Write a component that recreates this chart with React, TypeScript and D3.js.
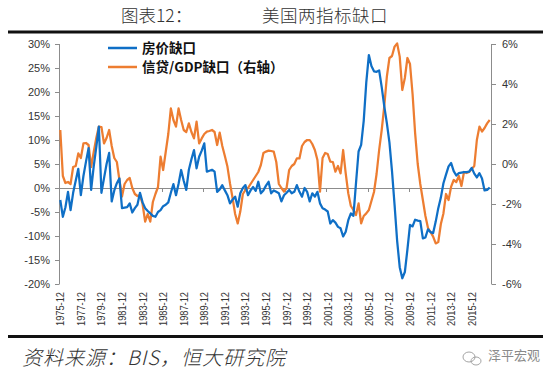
import React from "react";
import * as d3 from "d3";

const W = 550;
const H = 379;

const tickLabels = [
  "1975-12", "1977-12", "1979-12", "1981-12", "1983-12", "1985-12", "1987-12",
  "1989-12", "1991-12", "1993-12", "1995-12", "1997-12", "1999-12", "2001-12",
  "2003-12", "2005-12", "2007-12", "2009-12", "2011-12", "2013-12", "2015-12",
];

// 房价缺口 (left axis, %), quarterly from 1975-12
const housingGap = [
  -2.5, -6.0, -4.0, -0.8, -4.6, -1.0, 1.5, 4.0, -1.5, 2.5,
  5.5, 8.3, -0.4, 4.5, 8.5, 12.8, -1.0, 2.0, 5.0, 7.3,
  -2.8, -0.5, 1.0, 2.0, -4.2, -4.1, -4.0, -3.2, -5.1, -4.2,
  -3.5, -1.0, -3.0, -4.2, -4.8, -5.3, -5.8, -6.0, -5.0, -4.6,
  -3.8, -3.5, -3.0, -1.0, 0.8, -1.5, 0.9, 3.75, 1.5, -0.4,
  3.8, 6.0, 7.9, 4.1, 6.5, 7.8, 9.3, 3.4, 3.6, 3.8,
  3.4, -0.8, -0.3, 0.6, -0.5, -1.5, -3.2, -2.4, -1.8, -3.9,
  -1.1, 0.0, 0.6, -1.5, -0.5, 0.2, -0.6, 1.3, -1.1, -0.5,
  0.5, 1.3, -1.1, -0.5, -0.8, -1.1, -2.8, -1.5, -1.0, -0.4,
  -1.1, -0.8, 0.6, -0.8, -1.8, 0.0, -0.8, -2.8, -1.1, -1.8,
  -0.8, -3.2, -4.2, -4.5, -4.9, -7.4, -6.7, -7.2, -8.1, -8.4,
  -10.1, -9.1, -6.7, -5.3, -5.8, 1.0, 7.6, 9.0, 14.0, 22.0,
  27.7, 25.4, 24.3, 24.2, 24.5, 21.0, 17.0, 13.5, 9.5, 3.5,
  -3.5, -11.0, -16.5, -18.8, -17.5, -12.8, -7.7, -8.0, -6.6, -6.8,
  -6.9, -10.5, -10.3, -8.6, -9.2, -9.4, -7.0, -4.2, -2.0, 1.0,
  2.8, 4.5, 5.2, 3.5, 2.6, 3.1, 3.2, 3.3, 3.3, 3.4,
  4.2, 3.0, 2.2, 3.1, 2.0, -0.5, -0.4, 0.1,
];

// 信贷/GDP缺口 (right axis, %)
const creditGap = [
  1.7, -0.6, -0.95, -0.9, -1.0, -0.15, -0.1, 0.53, 0.3, 1.03,
  1.05, 0.95, -0.15, 0.6, 1.3, 1.87, 1.85, 1.03, 1.3, 1.7,
  0.9, 0.3, 0.1, -0.8, -1.63, -1.0, -0.8, -0.7, -1.2, -1.5,
  -1.6, -1.55, -2.0, -2.88, -2.5, -2.88, -1.9, -1.5, -1.15, 0.37,
  -0.3, 0.6, 1.5, 2.78, 2.2, 1.87, 2.78, 2.2, 1.7, 1.6,
  2.03, 1.6, 1.28, 2.12, 1.03, 1.28, 1.5, 1.62, 1.65, 1.7,
  1.6, 0.95, 1.57, 0.9, 0.4, -0.13, -0.97, -1.7, -2.5, -2.97,
  -2.38, -1.5, -1.3, -1.2, -1.0, -0.8, -0.6, -0.4, -0.05, 0.55,
  0.62, 0.67, 0.65, 0.62, 0.1, -1.0, -1.2, -1.38, -1.2, -0.3,
  -0.1, 0.0, 0.28, 0.28, 0.9, 1.1, 1.2, 1.2, 1.0, 0.7,
  0.2, -1.38, 0.3, 0.55, 0.5, 0.12, 0.1, -0.38, -0.1, -0.47,
  0.7, -0.47, -1.47, -2.1, -2.3, -2.55, -1.97, -2.97, -2.6, -2.47,
  -2.3, -1.85, -1.4, -0.5, 0.7, 1.7, 2.9, 4.37, 5.3, 5.4,
  5.87, 6.03, 5.37, 3.7, 4.3, 5.3, 5.0, 3.5, 1.53, 0.0,
  -1.0, -1.8, -2.6, -3.2, -3.4, -3.63, -3.97, -3.9, -3.0, -2.47,
  -1.5, -1.8, -1.13, -0.8, -0.9, -0.6, -1.1, -0.4, -0.45, -0.4,
  -0.25, -0.1, 1.2, 1.87, 1.62, 1.8, 2.03, 2.2,
];

const leftTicks = [30, 25, 20, 15, 10, 5, 0, -5, -10, -15, -20];
const rightTicks = [6, 4, 2, 0, -2, -4, -6];

const legendItems = [
  { label: "房价缺口", color: "#0F6FC6" },
  { label: "信贷/GDP缺口（右轴）", color: "#ED7D31" },
];

const AXIS = "#8C8C8C";
const TXT = "#333333";

export default function App() {
  const n = housingGap.length;
  const idx = d3.range(n);
  const x = d3.scaleBand<number>().domain(idx).range([59, 491]).paddingInner(0).paddingOuter(0);
  const bw = x.bandwidth();
  const cx = (i: number) => (x(i) as number) + bw / 2;
  const yL = d3.scaleLinear().domain([-20, 30]).range([284, 44]);
  const yR = d3.scaleLinear().domain([-6, 6]).range([284, 44]);

  const lineL = d3.line<number>().x((_, i) => cx(i)).y((d) => yL(d));
  const lineR = d3.line<number>().x((_, i) => cx(i)).y((d) => yR(d));

  const xTickIdx = d3.range(8, n + 1, 16);
  const labelIdx = tickLabels.map((_, k) => k * 8);
  const fontLatin = "'Liberation Sans', Arial, sans-serif";
  const fontCJK = "'Noto Sans CJK SC', 'Noto Sans', sans-serif";

  return (
    <svg width={W} height={H} style={{ position: "absolute", left: 0, top: 0, background: "#fff" }}>
      <rect x={0} y={0} width={W} height={H} fill="#fff" />
      {/* title */}
      <text x={121} y={22} fontFamily={fontCJK} fontWeight={300} fontSize={17.5} fill={TXT}>图表12：</text>
      <text x={262} y={22} fontFamily={fontCJK} fontWeight={300} fontSize={17.5} fill={TXT} letterSpacing={0.5}>美国两指标缺口</text>
      <rect x={8} y={30.5} width={535} height={3} fill="#111" />

      {/* left axis */}
      <line x1={59.5} y1={yL(30)} x2={59.5} y2={yL(-20)} stroke={AXIS} strokeWidth={1} />
      {leftTicks.map((t) => (
        <g key={"l" + t}>
          <line x1={55} x2={59.5} y1={Math.round(yL(t)) + 0.5} y2={Math.round(yL(t)) + 0.5} stroke={AXIS} />
          <text x={50} y={yL(t) + 4} textAnchor="end" fontFamily={fontLatin} fontSize={11} fill={TXT}>
            {t + "%"}
          </text>
        </g>
      ))}

      {/* right axis */}
      <line x1={491.5} y1={yR(6)} x2={491.5} y2={yR(-6)} stroke={AXIS} strokeWidth={1} />
      {rightTicks.map((t) => (
        <g key={"r" + t}>
          <line x1={491.5} x2={496} y1={Math.round(yR(t)) + 0.5} y2={Math.round(yR(t)) + 0.5} stroke={AXIS} />
          <text x={502} y={yR(t) + 4} textAnchor="start" fontFamily={fontLatin} fontSize={11} fill={TXT}>
            {t + "%"}
          </text>
        </g>
      ))}

      {/* zero line (category axis) */}
      <line x1={59.5} x2={491.5} y1={Math.round(yL(0)) + 0.5} y2={Math.round(yL(0)) + 0.5} stroke={AXIS} />
      {xTickIdx.map((k) => {
        const xx = Math.round(59 + k * bw) + 0.5;
        return <line key={"xt" + k} x1={xx} x2={xx} y1={yL(0)} y2={yL(0) + 4} stroke={AXIS} />;
      })}

      {/* x labels */}
      {labelIdx.map((k, j) => (
        <text
          key={"xl" + k}
          transform={`translate(${cx(k) + 4},292) rotate(-90)`}
          textAnchor="end"
          fontFamily={fontLatin}
          fontSize={11}
          fill={TXT}
          textLength={34}
          lengthAdjust="spacingAndGlyphs"
        >
          {tickLabels[j]}
        </text>
      ))}

      {/* series */}
      <path d={lineR(creditGap) || ""} fill="none" stroke="#ED7D31" strokeWidth={2.25} strokeLinejoin="round" />
      <path d={lineL(housingGap) || ""} fill="none" stroke="#0F6FC6" strokeWidth={2.25} strokeLinejoin="round" />

      {/* legend */}
      {legendItems.map((it, k) => (
        <g key={it.label}>
          <line x1={108} x2={137} y1={48 + k * 19} y2={48 + k * 19} stroke={it.color} strokeWidth={2.5} />
          <text x={142} y={53 + k * 19} fontFamily={fontCJK} fontWeight={700} fontSize={13.5} fill="#111">
            {it.label}
          </text>
        </g>
      ))}

      {/* bottom rule + source */}
      <rect x={8} y={335} width={535} height={3} fill="#111" />
      <text x={22} y={365} fontFamily={fontCJK} fontStyle="italic" fontWeight={300} fontSize={20} fill={TXT} letterSpacing={1}>
        资料来源：BIS，恒大研究院
      </text>
      {/* watermark */}
      <g transform="translate(463,351)" fill="none" stroke="#9a9a9a" strokeWidth={0.9}>
        <ellipse cx={6} cy={6} rx={6} ry={5} />
        <ellipse cx={13} cy={10} rx={5} ry={4} />
      </g>
      <text x={488} y={360} fontFamily={fontCJK} fontSize={13} fill="#8a8a8a">泽平宏观</text>
    </svg>
  );
}
